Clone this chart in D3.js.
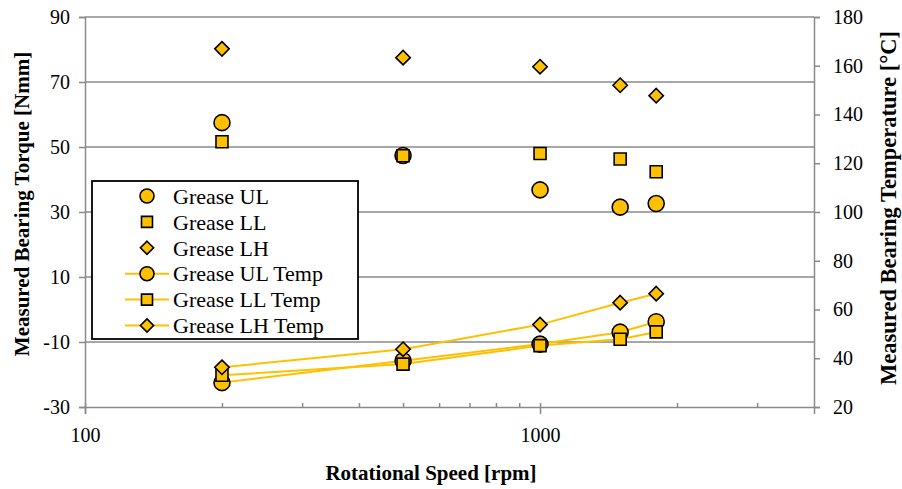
<!DOCTYPE html>
<html>
<head>
<meta charset="utf-8">
<script src="https://cdn.jsdelivr.net/npm/d3@7"></script>
<style>
  html, body { margin: 0; padding: 0; background: #fff; }
  svg { display: block; }
  svg text { font-family: "Liberation Serif", "Times New Roman", serif !important; fill: #000; }
</style>
</head>
<body>
<svg id="chart" width="902" height="489"></svg>
<script>
// Rotational speed [rpm]
const speeds = [200, 500, 1000, 1500, 1800];

// Measured bearing torque [Nmm]
const torqueUL = [57.5, 47.4, 36.8, 31.5, 32.6];
const torqueLL = [51.6, 47.3, 48.0, 46.3, 42.4];
const torqueLH = [80.2, 77.5, 74.7, 69.0, 65.8];

// Measured bearing temperature [°C]
const tempUL = [30.0, 39.0, 45.8, 50.7, 55.0];
const tempLL = [33.0, 37.6, 45.2, 47.8, 50.8];
const tempLH = [36.3, 43.7, 53.8, 62.8, 66.5];

// Axis tick values
const torqueTicks = [-30, -10, 10, 30, 50, 70, 90];
const tempTicks = [20, 40, 60, 80, 100, 120, 140, 160, 180];
const speedMajorTicks = [100, 1000];
const speedMinorTicks = [200, 300, 400, 500, 600, 700, 800, 900, 2000, 3000];

const seriesNames = ["Grease UL", "Grease LL", "Grease LH",
                     "Grease UL Temp", "Grease LL Temp", "Grease LH Temp"];

const gold = "#FFC000";
const gridGrey = "#8a8a8a";
const plainNumber = d => String(d);   // hyphen-minus, no thousands separator

const svg = d3.select("#chart");
const plot = { left: 85, right: 814, top: 17, bottom: 407 };

const x = d3.scaleLog().domain([100, 4000]).range([plot.left, plot.right]);
const yL = d3.scaleLinear().domain([-30, 90]).range([plot.bottom, plot.top]);
const yR = d3.scaleLinear().domain([20, 180]).range([plot.bottom, plot.top]);

// Horizontal gridlines from the torque axis
svg.append("g")
  .selectAll("line")
  .data(torqueTicks.filter(d => d > -30))
  .join("line")
  .attr("x1", plot.left).attr("x2", plot.right)
  .attr("y1", d => yL(d)).attr("y2", d => yL(d))
  .attr("stroke", gridGrey).attr("stroke-width", 1.5);

// Left axis
const leftAxis = svg.append("g")
  .attr("transform", `translate(${plot.left},0)`)
  .call(d3.axisLeft(yL).tickValues(torqueTicks).tickSize(6).tickPadding(9).tickFormat(plainNumber));

// Right axis
const rightAxis = svg.append("g")
  .attr("transform", `translate(${plot.right},0)`)
  .call(d3.axisRight(yR).tickValues(tempTicks).tickSize(6).tickPadding(13).tickFormat(plainNumber));

// Bottom axis: labelled decades crossing the axis, minor ticks inside
const bottomAxis = svg.append("g")
  .attr("transform", `translate(0,${plot.bottom})`)
  .call(d3.axisBottom(x).tickValues(speedMajorTicks).tickSize(7).tickPadding(14).tickFormat(plainNumber));
bottomAxis.selectAll(".tick line").attr("y1", -4);

svg.append("g")
  .attr("transform", `translate(0,${plot.bottom})`)
  .call(d3.axisTop(x).tickValues(speedMinorTicks).tickSize(4).tickFormat(""))
  .call(g => g.select(".domain").remove());

[leftAxis, rightAxis, bottomAxis].forEach(g => g.attr("font-family", null).attr("font-size", 20));
svg.selectAll(".domain").attr("stroke", gridGrey).attr("stroke-width", 1.5);
svg.selectAll(".tick line").attr("stroke", gridGrey).attr("stroke-width", 1.5);
svg.selectAll(".tick text").style("font-size", "20px");
bottomAxis.selectAll(".tick text").attr("dy", "0.71em");

// Marker shapes
const shapes = {
  circle: d3.symbol().type(d3.symbolCircle).size(Math.PI * 8 * 8),
  square: d3.symbol().type(d3.symbolSquare).size(12 * 12),
  diamond: d3.symbol().type(d3.symbolDiamond2).size(11.5 * 11.5)
};
const legendShapes = {
  circle: d3.symbol().type(d3.symbolCircle).size(Math.PI * 7 * 7),
  square: d3.symbol().type(d3.symbolSquare).size(11 * 11),
  diamond: d3.symbol().type(d3.symbolDiamond2).size(10.5 * 10.5)
};

function drawMarkers(values, yScale, shape) {
  svg.append("g")
    .selectAll("path")
    .data(speeds.map((s, i) => [s, values[i]]))
    .join("path")
    .attr("d", shapes[shape])
    .attr("transform", d => `translate(${x(d[0])},${yScale(d[1])})`)
    .attr("fill", gold)
    .attr("stroke", "#000")
    .attr("stroke-width", 1.6);
}

const line = yScale => d3.line().x(d => x(d[0])).y(d => yScale(d[1]));

// Temperature lines (below the markers)
[tempUL, tempLL, tempLH].forEach(v => {
  svg.append("path")
    .datum(speeds.map((s, i) => [s, v[i]]))
    .attr("d", line(yR))
    .attr("fill", "none")
    .attr("stroke", gold)
    .attr("stroke-width", 2);
});

// Torque markers
drawMarkers(torqueUL, yL, "circle");
drawMarkers(torqueLL, yL, "square");
drawMarkers(torqueLH, yL, "diamond");

// Temperature markers
drawMarkers(tempUL, yR, "circle");
drawMarkers(tempLL, yR, "square");
drawMarkers(tempLH, yR, "diamond");

// Legend
const legend = svg.append("g");
legend.append("rect")
  .attr("x", 92).attr("y", 181).attr("width", 266).attr("height", 158)
  .attr("fill", "#fff").attr("stroke", "#000").attr("stroke-width", 1.8);

const legendShape = ["circle", "square", "diamond", "circle", "square", "diamond"];
seriesNames.forEach((name, i) => {
  const cy = 196 + i * 25.9;
  if (i >= 3) {
    legend.append("line")
      .attr("x1", 125).attr("x2", 169).attr("y1", cy).attr("y2", cy)
      .attr("stroke", gold).attr("stroke-width", 2);
  }
  legend.append("path")
    .attr("d", legendShapes[legendShape[i]])
    .attr("transform", `translate(147,${cy})`)
    .attr("fill", gold).attr("stroke", "#000").attr("stroke-width", 1.6);
  legend.append("text")
    .attr("x", 173).attr("y", cy).attr("dy", "0.35em")
    .style("font-size", "22px")
    .text(name);
});

// Axis titles
svg.append("text")
  .attr("transform", `translate(22,204) rotate(-90)`)
  .attr("text-anchor", "middle").attr("dy", "0.35em")
  .style("font-size", "21px").style("font-weight", "bold")
  .text("Measured Bearing Torque [Nmm]");

svg.append("text")
  .attr("transform", `translate(896,208) rotate(-90)`)
  .attr("text-anchor", "middle")
  .style("font-size", "22.5px").style("font-weight", "bold")
  .text("Measured Bearing Temperature [°C]");

svg.append("text")
  .attr("x", 431).attr("y", 480)
  .attr("text-anchor", "middle")
  .style("font-size", "21px").style("font-weight", "bold")
  .text("Rotational Speed [rpm]");
</script>
</body>
</html>
